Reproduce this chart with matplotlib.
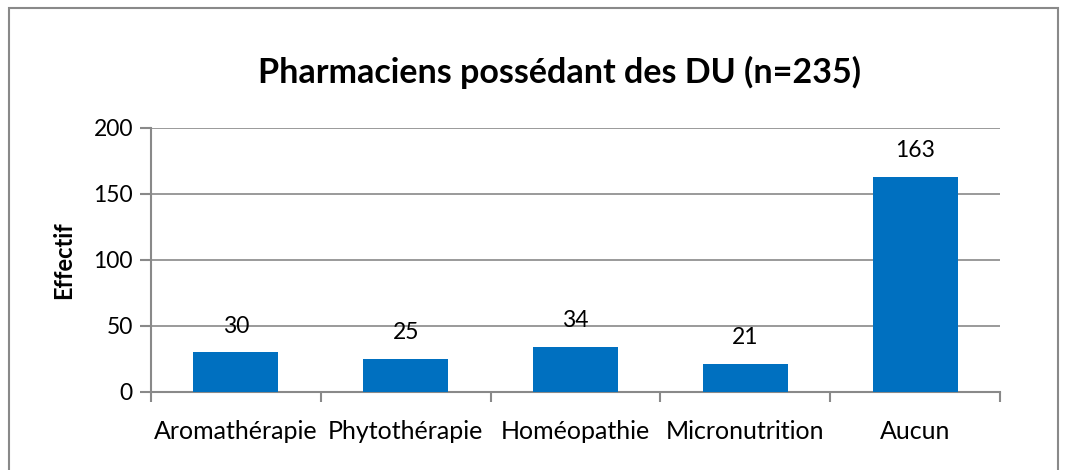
import matplotlib
matplotlib.use("Agg")
import matplotlib.pyplot as plt
from matplotlib.patches import Rectangle

categories = ["Aromathérapie", "Phytothérapie", "Homéopathie", "Micronutrition", "Aucun"]
effectifs = [30, 25, 34, 21, 163]
yticks = [0, 50, 100, 150, 200]

plt.rcParams['font.family'] = ['Lato', 'DejaVu Sans']

fig = plt.figure(figsize=(10.7, 4.7), dpi=100)
W, H = 1070, 470
ax = fig.add_axes([151 / W, 1 - 392 / H, (1000 - 151) / W, (392 - 128) / H])

# cadre autour du graphique
fig.patches.append(Rectangle((9 / W, -0.05), (1058 - 9) / W, 1.05 - 8 / H,
                             transform=fig.transFigure, fill=False,
                             edgecolor='#898989', linewidth=1.5))

x = list(range(len(categories)))
barres = ax.bar(x, effectifs, width=0.5, color='#0070C0', zorder=3)
for b, v in zip(barres, effectifs):
    ax.annotate(str(v), (b.get_x() + b.get_width() / 2, v), xytext=(0, 19),
                textcoords='offset points', ha='center', va='center', fontsize=16.5)

ax.set_xlim(-0.5, len(categories) - 0.5)
ax.set_ylim(0, 200)
ax.set_yticks(yticks)
ax.set_xticks(x)
ax.set_xticklabels(categories, fontsize=18)
ax.set_xticks([i - 0.5 for i in range(len(categories) + 1)], minor=True)
ax.tick_params(axis='x', which='major', length=0, pad=20)
ax.tick_params(axis='x', which='minor', length=7, color='#898989', width=1.5)
ax.tick_params(axis='y', length=8, color='#898989', width=1.5, labelsize=16.5, pad=5)
ax.grid(axis='y', color='#898989', linewidth=1.2, zorder=0)

for s in ['top', 'right']:
    ax.spines[s].set_visible(False)
for s in ['left', 'bottom']:
    ax.spines[s].set_color('#898989')
    ax.spines[s].set_linewidth(1.5)

ax.set_ylabel("Effectif", fontsize=17, fontweight='bold', labelpad=13)
fig.text(560 / W, 1 - 72 / H, "Pharmaciens possédant des DU (n=235)",
         ha='center', va='center', fontsize=24.5, fontweight='bold')

fig.savefig("out.png", dpi=100)
